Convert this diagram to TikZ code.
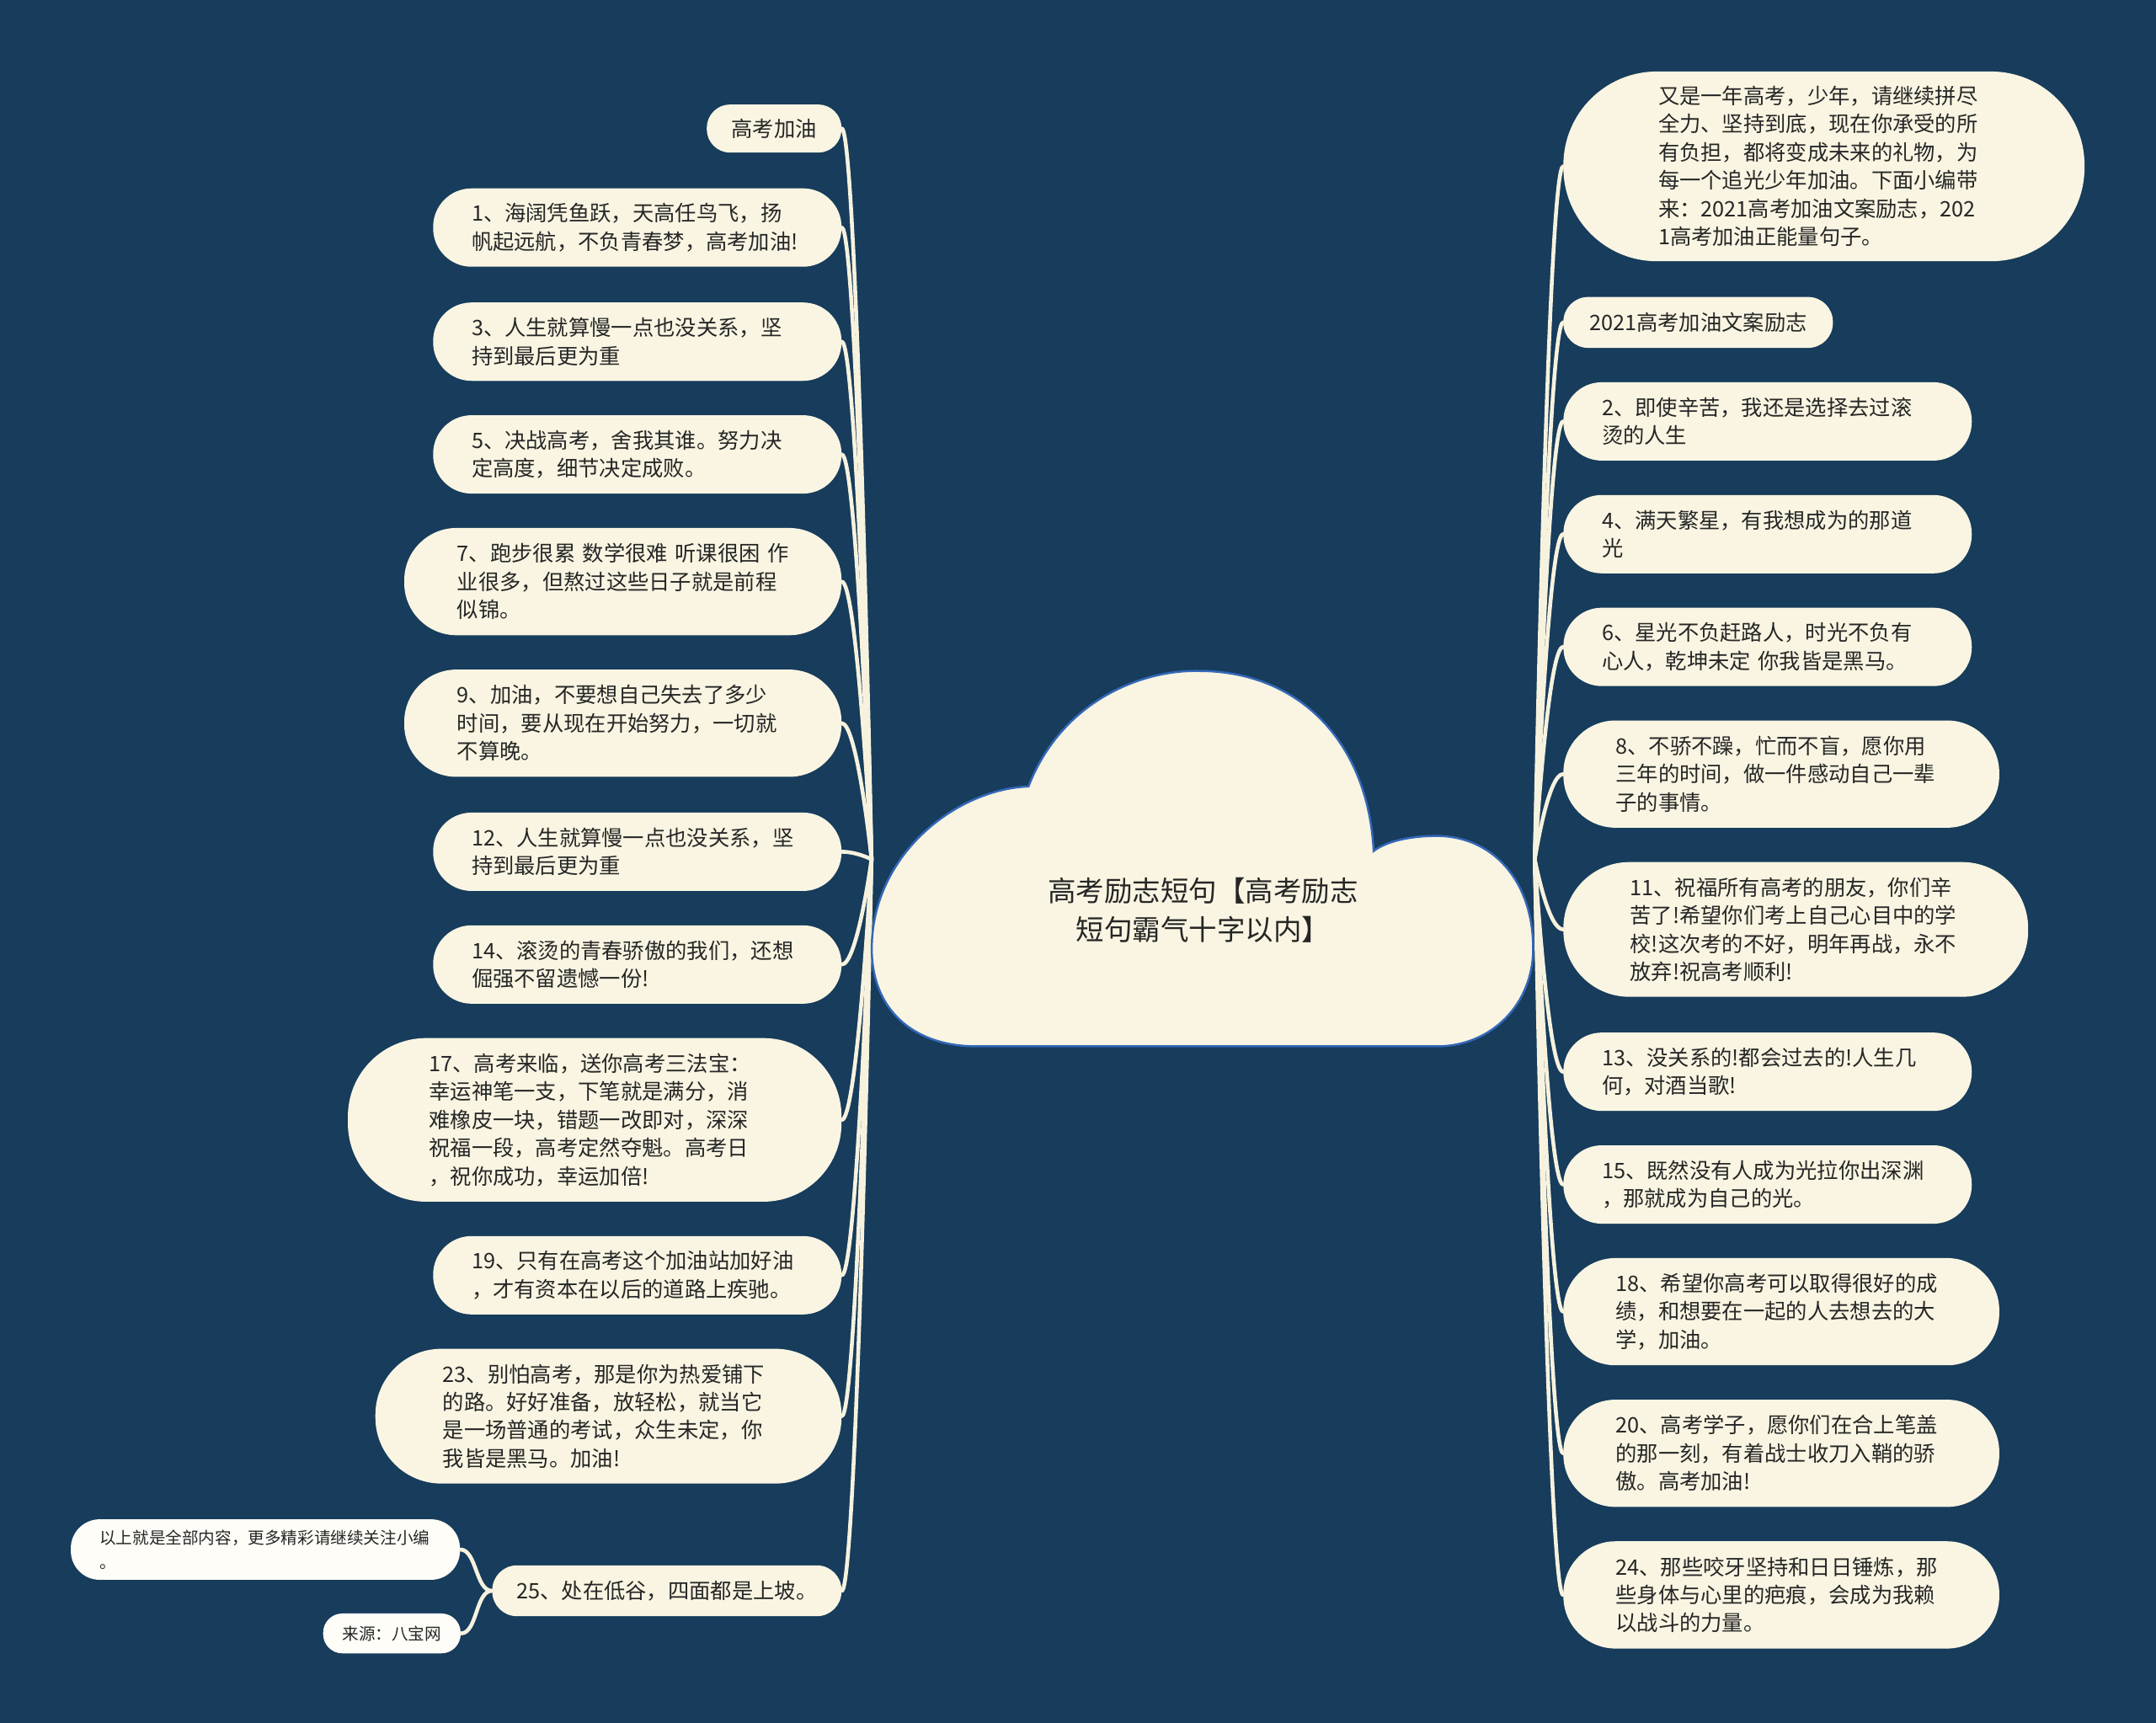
\documentclass[tikz,border=0pt]{standalone}
\usepackage{fontspec}
\setmainfont{Noto Sans CJK SC}
\definecolor{bgc}{RGB}{23,60,92}
\definecolor{nodefill}{RGB}{249,245,226}
\definecolor{linec}{RGB}{246,242,222}
\definecolor{txtc}{RGB}{38,38,38}
\definecolor{cloudline}{RGB}{52,104,184}
\definecolor{leaffill}{RGB}{254,253,247}
\tikzset{
  box/.style={fill=nodefill, text=txtc, inner sep=0pt, font=\fontsize{15.5pt}{20.5pt}\selectfont},
  para/.style={box, text width=241pt, align=left},
  sz/.style n args={3}{minimum width=#1pt, minimum height=#2pt, rounded corners=#3pt},
  leaf/.style={box, fill=leaffill, font=\fontsize{12pt}{18pt}\selectfont},
  link/.style={draw=linec, line width=2.8pt, line cap=round},
}
\begin{document}
\begin{tikzpicture}[x=1pt,y=-1pt]
\fill[bgc] (0,0) rectangle (1568,1253);
\useasboundingbox (0,0) rectangle (1568,1253);

% anchor node of the central topic
\node[minimum width=482pt, minimum height=274pt, inner sep=0pt] (root) at (875,625) {};

% ---------- left nodes ----------
\node[box, sz={98}{35}{17}] (L0) at (563,93.5) {高考加油};
\node[para, sz={297}{57}{28}] (L1) at (463.5,165.5) {1、海阔凭鱼跃，天高任鸟飞，扬\\帆起远航，不负青春梦，高考加油!};
\node[para, sz={297}{57}{28}] (L2) at (463.5,248.5) {3、人生就算慢一点也没关系，坚\\持到最后更为重};
\node[para, sz={297}{57}{28}] (L3) at (463.5,330.5) {5、决战高考，舍我其谁。努力决\\定高度，细节决定成败。};
\node[para, sz={318}{78}{38}] (L4) at (453,423) {7、跑步很累~数学很难~听课很困~作\\业很多，但熬过这些日子就是前程\\似锦。};
\node[para, sz={318}{78}{38}] (L5) at (453,526) {9、加油，不要想自己失去了多少\\时间，要从现在开始努力，一切就\\不算晚。};
\node[para, sz={297}{57}{28}] (L6) at (463.5,619.5) {12、人生就算慢一点也没关系，坚\\持到最后更为重};
\node[para, sz={297}{57}{28}] (L7) at (463.5,701.5) {14、滚烫的青春骄傲的我们，还想\\倔强不留遗憾一份!};
\node[para, sz={359}{119}{57}] (L8) at (432.5,814.5) {17、高考来临，送你高考三法宝：\\幸运神笔一支，下笔就是满分，消\\难橡皮一块，错题一改即对，深深\\祝福一段，高考定然夺魁。高考日\\，祝你成功，幸运加倍!};
\node[para, sz={297}{57}{28}] (L9) at (463.5,927.5) {19、只有在高考这个加油站加好油\\，才有资本在以后的道路上疾驰。};
\node[para, sz={339}{98}{48}] (L10) at (442.5,1030) {23、别怕高考，那是你为热爱铺下\\的路。好好准备，放轻松，就当它\\是一场普通的考试，众生未定，你\\我皆是黑马。加油!};
\node[box, sz={254}{37}{18}] (L11) at (485,1157) {25、处在低谷，四面都是上坡。};
\node[leaf, text width=241pt, align=left, sz={283}{44}{21}] (L12) at (193,1127) {以上就是全部内容，更多精彩请继续关注小编\\。};
\node[leaf, sz={100}{29}{14}] (L13) at (285,1188) {来源：八宝网};

% ---------- right nodes ----------
\node[para, sz={379}{138}{68}] (R0) at (1326.5,121) {又是一年高考，少年，请继续拼尽\\全力、坚持到底，现在你承受的所\\有负担，都将变成未来的礼物，为\\每一个追光少年加油。下面小编带\\来：2021高考加油文案励志，202\\1高考加油正能量句子。};
\node[box, sz={196}{37}{18}] (R1) at (1235,234.5) {2021高考加油文案励志};
\node[para, sz={297}{57}{28}] (R2) at (1285.5,306.5) {2、即使辛苦，我还是选择去过滚\\烫的人生};
\node[para, sz={297}{57}{28}] (R3) at (1285.5,388.5) {4、满天繁星，有我想成为的那道\\光};
\node[para, sz={297}{57}{28}] (R4) at (1285.5,470.5) {6、星光不负赶路人，时光不负有\\心人，乾坤未定~你我皆是黑马。};
\node[para, sz={317}{78}{38}] (R5) at (1295.5,563) {8、不骄不躁，忙而不盲，愿你用\\三年的时间，做一件感动自己一辈\\子的事情。};
\node[para, sz={338}{98}{48}] (R6) at (1306,676) {11、祝福所有高考的朋友，你们辛\\苦了!希望你们考上自己心目中的学\\校!这次考的不好，明年再战，永不\\放弃!祝高考顺利!};
\node[para, sz={297}{57}{28}] (R7) at (1285.5,779.5) {13、没关系的!都会过去的!人生几\\何，对酒当歌!};
\node[para, sz={297}{57}{28}] (R8) at (1285.5,861.5) {15、既然没有人成为光拉你出深渊\\，那就成为自己的光。};
\node[para, sz={317}{78}{38}] (R9) at (1295.5,954) {18、希望你高考可以取得很好的成\\绩，和想要在一起的人去想去的大\\学，加油。};
\node[para, sz={317}{78}{38}] (R10) at (1295.5,1057) {20、高考学子，愿你们在合上笔盖\\的那一刻，有着战士收刀入鞘的骄\\傲。高考加油!};
\node[para, sz={317}{78}{38}] (R11) at (1295.5,1160) {24、那些咬牙坚持和日日锤炼，那\\些身体与心里的疤痕，会成为我赖\\以战斗的力量。};

% ---------- connectors ----------
\path[link] (L0.east) .. controls +(10,0) and +(-2,-106) .. (root.west);
\path[link] (L1.east) .. controls +(10,0) and +(-2,-92) .. (root.west);
\path[link] (L2.east) .. controls +(10,0) and +(-2,-75) .. (root.west);
\path[link] (L3.east) .. controls +(10,0) and +(-2,-59) .. (root.west);
\path[link] (L4.east) .. controls +(10,0) and +(-2,-40) .. (root.west);
\path[link] (L5.east) .. controls +(10,0) and +(-2,-20) .. (root.west);
\path[link] (L6.east) .. controls +(10,0) and +(-2,-1) .. (root.west);
\path[link] (L7.east) .. controls +(10,0) and +(-2,15) .. (root.west);
\path[link] (L8.east) .. controls +(10,0) and +(-2,38) .. (root.west);
\path[link] (L9.east) .. controls +(10,0) and +(-2,60) .. (root.west);
\path[link] (L10.east) .. controls +(10,0) and +(-2,81) .. (root.west);
\path[link] (L11.east) .. controls +(10,0) and +(-2,106) .. (root.west);
\path[link] (L11.west) .. controls +(-12,0) and +(12,0) .. (L12.east);
\path[link] (L11.west) .. controls +(-12,0) and +(12,0) .. (L13.east);

\path[link] (root.east) .. controls +(2,-101) and +(-10,0) .. (R0.west);
\path[link] (root.east) .. controls +(2,-78) and +(-10,0) .. (R1.west);
\path[link] (root.east) .. controls +(2,-64) and +(-10,0) .. (R2.west);
\path[link] (root.east) .. controls +(2,-47) and +(-10,0) .. (R3.west);
\path[link] (root.east) .. controls +(2,-31) and +(-10,0) .. (R4.west);
\path[link] (root.east) .. controls +(2,-12) and +(-10,0) .. (R5.west);
\path[link] (root.east) .. controls +(2,10) and +(-10,0) .. (R6.west);
\path[link] (root.east) .. controls +(2,31) and +(-10,0) .. (R7.west);
\path[link] (root.east) .. controls +(2,47) and +(-10,0) .. (R8.west);
\path[link] (root.east) .. controls +(2,66) and +(-10,0) .. (R9.west);
\path[link] (root.east) .. controls +(2,86) and +(-10,0) .. (R10.west);
\path[link] (root.east) .. controls +(2,107) and +(-10,0) .. (R11.west);

% ---------- cloud ----------
\path[fill=nodefill, draw=cloudline, line width=1.5pt]
  (748,572) .. controls (695,574) and (634,622) .. (634,690)
  .. controls (634,735) and (665,761) .. (710,761)
  -- (1045,761)
  .. controls (1085,761) and (1115,730) .. (1115,690)
  .. controls (1115,640) and (1085,608) .. (1045,608)
  .. controls (1025,608) and (1008,612) .. (999,619)
  .. controls (995,540) and (945,488) .. (872,488)
  .. controls (830,487) and (772,510) .. (748,572) -- cycle;
\node[text=txtc, align=center, inner sep=0pt, font=\fontsize{20.5pt}{28pt}\selectfont] (title) at (875,662) {高考励志短句【高考励志\\短句霸气十字以内】};
\end{tikzpicture}
\end{document}
